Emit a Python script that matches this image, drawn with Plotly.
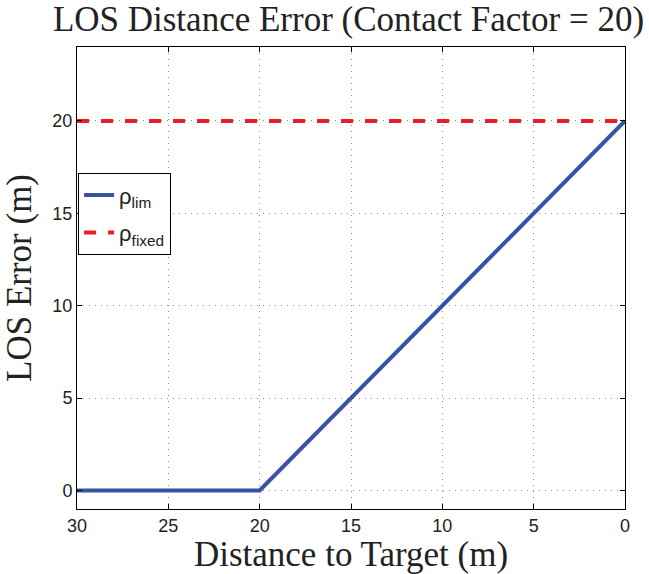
import plotly.graph_objects as go

distance = [30, 20, 0]
rho_lim = [0, 0, 20]
distance_fixed = [30, 0]
rho_fixed = [20, 20]
x_ticks = [0, 5, 10, 15, 20, 25, 30]
y_ticks = [0, 5, 10, 15, 20]

fig = go.Figure()
fig.add_trace(go.Scatter(x=distance, y=rho_lim, mode="lines", name="ρ<sub>lim</sub>",
                         legendgroup="a",
                         line=dict(color="#3953A4", width=4)))
fig.add_trace(go.Scatter(x=distance_fixed, y=rho_fixed, mode="lines", name="ρ<sub>fixed</sub>",
                         legendgroup="b",
                         line=dict(color="#EC1C24", width=4, dash="dash")))

serif = "Liberation Serif"
sans = "Liberation Sans"
axis_common = dict(showline=True, linecolor="black", linewidth=1, mirror="ticks",
                   ticks="inside", ticklen=5, tickcolor="black",
                   showgrid=True, gridcolor="#8a8a8a", griddash="1px,5px", gridwidth=1,
                   zeroline=False, tickfont=dict(family=sans, size=18, color="#222"))

fig.update_layout(
    width=649, height=574,
    margin=dict(l=77, r=24, t=47, b=65),
    paper_bgcolor="white", plot_bgcolor="white",
    title=dict(text="LOS Distance Error (Contact Factor = 20)", x=0.537, xanchor="center",
               y=0.968, yanchor="middle", font=dict(family=serif, size=35, color="#222")),
    xaxis=dict(range=[30, 0], tickvals=x_ticks,
               title=dict(text="Distance to Target (m)", font=dict(family=serif, size=35, color="#222"), standoff=2),
               **axis_common),
    yaxis=dict(range=[-1, 24], tickvals=y_ticks,
               title=dict(text="LOS Error (m)", font=dict(family=serif, size=35, color="#222"), standoff=10),
               **axis_common),
    legend=dict(x=0.002, y=0.727, xanchor="left", yanchor="top", bgcolor="white",
                bordercolor="black", borderwidth=1, traceorder="grouped",
                font=dict(family=sans, size=22, color="#222"), tracegroupgap=6),
    showlegend=True,
)

fig.write_html("out.html")
